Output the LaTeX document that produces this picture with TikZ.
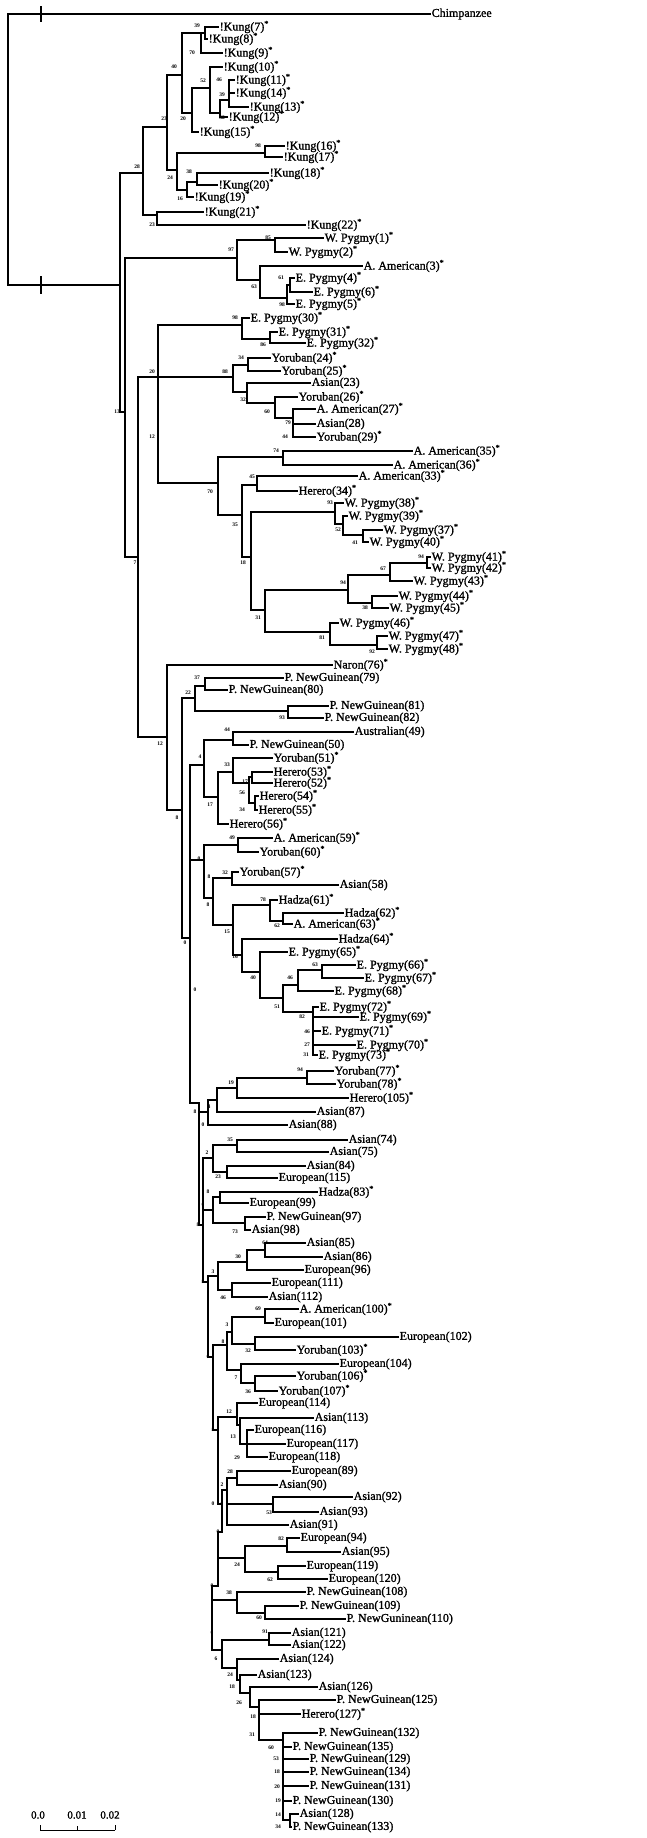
\documentclass[tikz,border=0pt]{standalone}
\usepackage{fontspec}
\setmainfont{Liberation Serif}
\newfontfamily\taxfont{Liberation Serif}[FakeBold=1.2]
\newcommand{\sig}{\textsuperscript{*}}
\tikzset{
  branch/.style={line width=1.3pt, line cap=rect},
  taxon/.style={anchor=west, inner xsep=1.5pt, inner ysep=0pt, font=\taxfont\fontsize{12}{12}\selectfont},
  boot/.style={inner sep=0pt, font=\fontsize{5.5}{5.5}\bfseries\selectfont},
  scalelab/.style={inner sep=0pt, font=\taxfont\fontsize{11}{11}\selectfont},
}

\begin{document}
\begin{tikzpicture}[x=1pt,y=-1pt]
\useasboundingbox (0,0) rectangle (647,1838);

% internal nodes
\coordinate (r) at (8,150);
\coordinate (h) at (120,285);
\coordinate (n28) at (143,173);
\coordinate (n23a) at (167,127);
\coordinate (n40) at (182,75);
\coordinate (n70k) at (201,33);
\coordinate (n39k) at (205,33);
\coordinate (n20k) at (192,113);
\coordinate (n52) at (210,88);
\coordinate (n32k) at (220,113);
\coordinate (n39b) at (229,100);
\coordinate (n24) at (177,170);
\coordinate (n98k) at (265,153);
\coordinate (n16k) at (187,190);
\coordinate (n38k) at (197,182);
\coordinate (n23b) at (157,215);
\coordinate (n13) at (125,412);
\coordinate (n97) at (237,258);
\coordinate (n85) at (275,240);
\coordinate (n63) at (260,280);
\coordinate (n98e) at (287,298);
\coordinate (n61) at (290,285);
\coordinate (n7) at (138,557);
\coordinate (n20) at (158,377);
\coordinate (n98c) at (242,325);
\coordinate (n86) at (270,339);
\coordinate (n88) at (233,377);
\coordinate (n34) at (248,365);
\coordinate (n32b) at (247,392);
\coordinate (n60) at (275,403);
\coordinate (n79) at (293,418);
\coordinate (n70) at (218,483);
\coordinate (n74) at (283,457);
\coordinate (n35) at (242,515);
\coordinate (n45) at (257,485);
\coordinate (n18) at (251,557);
\coordinate (n93) at (335,512);
\coordinate (n52b) at (343,524);
\coordinate (n41) at (363,535);
\coordinate (n31) at (265,610);
\coordinate (n94) at (348,590);
\coordinate (n67) at (390,575);
\coordinate (n94b) at (427,563);
\coordinate (n38b) at (372,603);
\coordinate (n81) at (330,632);
\coordinate (n92) at (377,645);
\coordinate (n12) at (167,737);
\coordinate (n8a) at (182,810);
\coordinate (n22) at (195,698);
\coordinate (n37) at (205,686);
\coordinate (n93b) at (288,711);
\coordinate (c1) at (190,938);
\coordinate (n4) at (204,765);
\coordinate (n44) at (233,740);
\coordinate (n17) at (218,797);
\coordinate (n33) at (233,772);
\coordinate (n56) at (249,783);
\coordinate (n17b) at (252,777);
\coordinate (n34b) at (255,803);
\coordinate (n0a) at (204,860);
\coordinate (n49) at (238,845);
\coordinate (n8b) at (213,898);
\coordinate (n32c) at (232,878);
\coordinate (n15) at (233,925);
\coordinate (n78) at (270,905);
\coordinate (n62) at (283,921);
\coordinate (n16) at (242,955);
\coordinate (n40b) at (260,972);
\coordinate (n51) at (283,998);
\coordinate (n46b) at (298,985);
\coordinate (n63b) at (322,970);
\coordinate (n82) at (313,1012);
\coordinate (c2) at (199,1103);
\coordinate (n0b) at (208,1112);
\coordinate (n4b) at (217,1100);
\coordinate (n19) at (237,1088);
\coordinate (n94c) at (307,1078);
\coordinate (c3) at (203,1225);
\coordinate (n2) at (213,1158);
\coordinate (n35b) at (237,1145);
\coordinate (n23c) at (227,1172);
\coordinate (n0c) at (213,1210);
\coordinate (n8c) at (220,1197);
\coordinate (n73) at (245,1223);
\coordinate (c4) at (208,1282);
\coordinate (n3) at (218,1276);
\coordinate (n30) at (247,1262);
\coordinate (n64) at (265,1250);
\coordinate (n46d) at (232,1290);
\coordinate (c5) at (213,1357);
\coordinate (n8d) at (227,1345);
\coordinate (n3b) at (232,1332);
\coordinate (n69) at (265,1317);
\coordinate (n32d) at (255,1344);
\coordinate (n7b) at (241,1370);
\coordinate (n36) at (255,1383);
\coordinate (c6) at (218,1430);
\coordinate (n12c) at (237,1417);
\coordinate (n13b) at (240,1425);
\coordinate (n29) at (247,1444);
\coordinate (c7) at (222,1504);
\coordinate (n2b) at (227,1490);
\coordinate (n28b) at (237,1478);
\coordinate (n53) at (273,1504);
\coordinate (c8) at (218,1532);
\coordinate (n24b) at (245,1558);
\coordinate (n82b) at (287,1546);
\coordinate (n62b) at (278,1572);
\coordinate (c9) at (212,1586);
\coordinate (n38c) at (237,1600);
\coordinate (n60b) at (265,1613);
\coordinate (n6) at (222,1650);
\coordinate (n91) at (269,1640);
\coordinate (n24c) at (237,1668);
\coordinate (n18c) at (240,1680);
\coordinate (n26) at (250,1693);
\coordinate (n18d) at (259,1707);
\coordinate (n60c) at (283,1740);
\coordinate (n16c) at (290,1820);

% taxa
\node[taxon] (tCh) at (430,14) {Chimpanzee};
\node[taxon] (tK7) at (218,27) {!Kung(7)\sig};
\node[taxon] (tK8) at (207,39) {!Kung(8)\sig};
\node[taxon] (tK9) at (222,53) {!Kung(9)\sig};
\node[taxon] (tK10) at (222,67) {!Kung(10)\sig};
\node[taxon] (tK11) at (234,80) {!Kung(11)\sig};
\node[taxon] (tK14) at (234,93) {!Kung(14)\sig};
\node[taxon] (tK13) at (248,107) {!Kung(13)\sig};
\node[taxon] (tK12) at (227,117) {!Kung(12)\sig};
\node[taxon] (tK15) at (198,132) {!Kung(15)\sig};
\node[taxon] (tK16) at (284,146) {!Kung(16)\sig};
\node[taxon] (tK17) at (282,157) {!Kung(17)\sig};
\node[taxon] (tK18) at (268,173) {!Kung(18)\sig};
\node[taxon] (tK20) at (217,185) {!Kung(20)\sig};
\node[taxon] (tK19) at (193,197) {!Kung(19)\sig};
\node[taxon] (tK21) at (203,212) {!Kung(21)\sig};
\node[taxon] (tK22) at (305,225) {!Kung(22)\sig};
\node[taxon] (tW1) at (323,238) {W. Pygmy(1)\sig};
\node[taxon] (tW2) at (287,252) {W. Pygmy(2)\sig};
\node[taxon] (tA3) at (362,266) {A. American(3)\sig};
\node[taxon] (tE4) at (294,278) {E. Pygmy(4)\sig};
\node[taxon] (tE6) at (312,292) {E. Pygmy(6)\sig};
\node[taxon] (tE5) at (294,304) {E. Pygmy(5)\sig};
\node[taxon] (tE30) at (249,318) {E. Pygmy(30)\sig};
\node[taxon] (tE31) at (277,332) {E. Pygmy(31)\sig};
\node[taxon] (tE32) at (305,343) {E. Pygmy(32)\sig};
\node[taxon] (tY24) at (270,358) {Yoruban(24)\sig};
\node[taxon] (tY25) at (280,371) {Yoruban(25)\sig};
\node[taxon] (tA23) at (310,383) {Asian(23)};
\node[taxon] (tY26) at (297,397) {Yoruban(26)\sig};
\node[taxon] (tA27) at (315,409) {A. American(27)\sig};
\node[taxon] (tA28) at (315,424) {Asian(28)};
\node[taxon] (tY29) at (315,437) {Yoruban(29)\sig};
\node[taxon] (tA35) at (412,451) {A. American(35)\sig};
\node[taxon] (tA36) at (392,465) {A. American(36)\sig};
\node[taxon] (tA33) at (357,476) {A. American(33)\sig};
\node[taxon] (tH34) at (297,491) {Herero(34)\sig};
\node[taxon] (tW38) at (343,503) {W. Pygmy(38)\sig};
\node[taxon] (tW39) at (347,516) {W. Pygmy(39)\sig};
\node[taxon] (tW37) at (382,530) {W. Pygmy(37)\sig};
\node[taxon] (tW40) at (368,542) {W. Pygmy(40)\sig};
\node[taxon] (tW41) at (430,557) {W. Pygmy(41)\sig};
\node[taxon] (tW42) at (430,568) {W. Pygmy(42)\sig};
\node[taxon] (tW43) at (412,581) {W. Pygmy(43)\sig};
\node[taxon] (tW44) at (397,596) {W. Pygmy(44)\sig};
\node[taxon] (tW45) at (388,608) {W. Pygmy(45)\sig};
\node[taxon] (tW46) at (338,623) {W. Pygmy(46)\sig};
\node[taxon] (tW47) at (387,636) {W. Pygmy(47)\sig};
\node[taxon] (tW48) at (387,649) {W. Pygmy(48)\sig};
\node[taxon] (tN76) at (332,665) {Naron(76)\sig};
\node[taxon] (tP79) at (283,678) {P. NewGuinean(79)};
\node[taxon] (tP80) at (227,690) {P. NewGuinean(80)};
\node[taxon] (tP81) at (328,706) {P. NewGuinean(81)};
\node[taxon] (tP82) at (323,718) {P. NewGuinean(82)};
\node[taxon] (tAu49) at (353,732) {Australian(49)};
\node[taxon] (tP50) at (248,745) {P. NewGuinean(50)};
\node[taxon] (tY51) at (272,758) {Yoruban(51)\sig};
\node[taxon] (tH53) at (272,772) {Herero(53)\sig};
\node[taxon] (tH52) at (272,783) {Herero(52)\sig};
\node[taxon] (tH54) at (258,796) {Herero(54)\sig};
\node[taxon] (tH55) at (257,810) {Herero(55)\sig};
\node[taxon] (tH56) at (228,824) {Herero(56)\sig};
\node[taxon] (tA59) at (272,838) {A. American(59)\sig};
\node[taxon] (tY60) at (258,852) {Yoruban(60)\sig};
\node[taxon] (tY57) at (238,872) {Yoruban(57)\sig};
\node[taxon] (tA58) at (338,885) {Asian(58)};
\node[taxon] (tHa61) at (277,900) {Hadza(61)\sig};
\node[taxon] (tHa62) at (343,913) {Hadza(62)\sig};
\node[taxon] (tA63) at (292,924) {A. American(63)\sig};
\node[taxon] (tHa64) at (337,939) {Hadza(64)\sig};
\node[taxon] (tE65) at (287,952) {E. Pygmy(65)\sig};
\node[taxon] (tE66) at (355,965) {E. Pygmy(66)\sig};
\node[taxon] (tE67) at (363,978) {E. Pygmy(67)\sig};
\node[taxon] (tE68) at (333,991) {E. Pygmy(68)\sig};
\node[taxon] (tE72) at (318,1007) {E. Pygmy(72)\sig};
\node[taxon] (tE69) at (358,1017) {E. Pygmy(69)\sig};
\node[taxon] (tE71) at (320,1031) {E. Pygmy(71)\sig};
\node[taxon] (tE70) at (355,1045) {E. Pygmy(70)\sig};
\node[taxon] (tE73) at (317,1055) {E. Pygmy(73)\sig};
\node[taxon] (tY77) at (333,1071) {Yoruban(77)\sig};
\node[taxon] (tY78) at (335,1084) {Yoruban(78)\sig};
\node[taxon] (tH105) at (348,1098) {Herero(105)\sig};
\node[taxon] (tA87) at (315,1112) {Asian(87)};
\node[taxon] (tA88) at (287,1125) {Asian(88)};
\node[taxon] (tA74) at (347,1140) {Asian(74)};
\node[taxon] (tA75) at (328,1152) {Asian(75)};
\node[taxon] (tA84) at (305,1166) {Asian(84)};
\node[taxon] (tE115) at (277,1178) {European(115)};
\node[taxon] (tHa83) at (317,1192) {Hadza(83)\sig};
\node[taxon] (tE99) at (248,1203) {European(99)};
\node[taxon] (tP97) at (265,1217) {P. NewGuinean(97)};
\node[taxon] (tA98) at (250,1230) {Asian(98)};
\node[taxon] (tA85) at (305,1243) {Asian(85)};
\node[taxon] (tA86) at (322,1257) {Asian(86)};
\node[taxon] (tE96) at (303,1270) {European(96)};
\node[taxon] (tE111) at (270,1283) {European(111)};
\node[taxon] (tA112) at (267,1297) {Asian(112)};
\node[taxon] (tA100) at (298,1309) {A. American(100)\sig};
\node[taxon] (tE101) at (273,1323) {European(101)};
\node[taxon] (tE102) at (398,1337) {European(102)};
\node[taxon] (tY103) at (295,1350) {Yoruban(103)\sig};
\node[taxon] (tE104) at (338,1364) {European(104)};
\node[taxon] (tY106) at (295,1376) {Yoruban(106)\sig};
\node[taxon] (tY107) at (277,1391) {Yoruban(107)\sig};
\node[taxon] (tE114) at (257,1403) {European(114)};
\node[taxon] (tA113) at (313,1418) {Asian(113)};
\node[taxon] (tE116) at (253,1430) {European(116)};
\node[taxon] (tE117) at (285,1444) {European(117)};
\node[taxon] (tE118) at (267,1457) {European(118)};
\node[taxon] (tE89) at (290,1471) {European(89)};
\node[taxon] (tA90) at (277,1485) {Asian(90)};
\node[taxon] (tA92) at (352,1497) {Asian(92)};
\node[taxon] (tA93) at (318,1512) {Asian(93)};
\node[taxon] (tA91) at (288,1525) {Asian(91)};
\node[taxon] (tE94) at (299,1538) {European(94)};
\node[taxon] (tA95) at (340,1552) {Asian(95)};
\node[taxon] (tE119) at (305,1566) {European(119)};
\node[taxon] (tE120) at (327,1579) {European(120)};
\node[taxon] (tP108) at (305,1592) {P. NewGuinean(108)};
\node[taxon] (tP109) at (298,1606) {P. NewGuinean(109)};
\node[taxon] (tP110) at (345,1619) {P. NewGuninean(110)};
\node[taxon] (tA121) at (290,1633) {Asian(121)};
\node[taxon] (tA122) at (290,1645) {Asian(122)};
\node[taxon] (tA124) at (278,1659) {Asian(124)};
\node[taxon] (tA123) at (256,1675) {Asian(123)};
\node[taxon] (tA126) at (317,1687) {Asian(126)};
\node[taxon] (tP125) at (335,1700) {P. NewGuinean(125)};
\node[taxon] (tH127) at (300,1714) {Herero(127)\sig};
\node[taxon] (tP132) at (317,1733) {P. NewGuinean(132)};
\node[taxon] (tP135) at (291,1747) {P. NewGuinean(135)};
\node[taxon] (tP129) at (308,1759) {P. NewGuinean(129)};
\node[taxon] (tP134) at (308,1772) {P. NewGuinean(134)};
\node[taxon] (tP131) at (308,1786) {P. NewGuinean(131)};
\node[taxon] (tP130) at (291,1801) {P. NewGuinean(130)};
\node[taxon] (tA128) at (298,1814) {Asian(128)};
\node[taxon] (tP133) at (291,1827) {P. NewGuinean(133)};

% branches
\draw[branch] (r) |- (tCh) (r) |- (h);
\draw[branch] (h) |- (n28) (h) |- (n13);
\draw[branch] (n28) |- (n23a) (n28) |- (n23b);
\draw[branch] (n23a) |- (n40) (n23a) |- (n24);
\draw[branch] (n40) |- (n70k) (n40) |- (n20k);
\draw[branch] (n70k) |- (n39k) (n70k) |- (tK9);
\draw[branch] (n39k) |- (tK7) (n39k) |- (tK8);
\draw[branch] (n20k) |- (n52) (n20k) |- (tK15);
\draw[branch] (n52) |- (tK10) (n52) |- (n32k);
\draw[branch] (n32k) |- (n39b) (n32k) |- (tK12);
\draw[branch] (n39b) |- (tK11) (n39b) |- (tK14) (n39b) |- (tK13);
\draw[branch] (n24) |- (n98k) (n24) |- (n16k);
\draw[branch] (n98k) |- (tK16) (n98k) |- (tK17);
\draw[branch] (n16k) |- (n38k) (n16k) |- (tK19);
\draw[branch] (n38k) |- (tK18) (n38k) |- (tK20);
\draw[branch] (n23b) |- (tK21) (n23b) |- (tK22);
\draw[branch] (n13) |- (n97) (n13) |- (n7);
\draw[branch] (n97) |- (n85) (n97) |- (n63);
\draw[branch] (n85) |- (tW1) (n85) |- (tW2);
\draw[branch] (n63) |- (tA3) (n63) |- (n98e);
\draw[branch] (n98e) |- (n61) (n98e) |- (tE5);
\draw[branch] (n61) |- (tE4) (n61) |- (tE6);
\draw[branch] (n7) |- (n20) (n7) |- (n12);
\draw[branch] (n20) |- (n98c) (n20) |- (n88) (n20) |- (n70);
\draw[branch] (n98c) |- (tE30) (n98c) |- (n86);
\draw[branch] (n86) |- (tE31) (n86) |- (tE32);
\draw[branch] (n88) |- (n34) (n88) |- (n32b);
\draw[branch] (n34) |- (tY24) (n34) |- (tY25);
\draw[branch] (n32b) |- (tA23) (n32b) |- (n60);
\draw[branch] (n60) |- (tY26) (n60) |- (n79);
\draw[branch] (n79) |- (tA27) (n79) |- (tA28) (n79) |- (tY29);
\draw[branch] (n70) |- (n74) (n70) |- (n35);
\draw[branch] (n74) |- (tA35) (n74) |- (tA36);
\draw[branch] (n35) |- (n45) (n35) |- (n18);
\draw[branch] (n45) |- (tA33) (n45) |- (tH34);
\draw[branch] (n18) |- (n93) (n18) |- (n31);
\draw[branch] (n93) |- (tW38) (n93) |- (n52b);
\draw[branch] (n52b) |- (tW39) (n52b) |- (n41);
\draw[branch] (n41) |- (tW37) (n41) |- (tW40);
\draw[branch] (n31) |- (n94) (n31) |- (n81);
\draw[branch] (n94) |- (n67) (n94) |- (n38b);
\draw[branch] (n67) |- (n94b) (n67) |- (tW43);
\draw[branch] (n94b) |- (tW41) (n94b) |- (tW42);
\draw[branch] (n38b) |- (tW44) (n38b) |- (tW45);
\draw[branch] (n81) |- (tW46) (n81) |- (n92);
\draw[branch] (n92) |- (tW47) (n92) |- (tW48);
\draw[branch] (n12) |- (tN76) (n12) |- (n8a);
\draw[branch] (n8a) |- (n22) (n8a) |- (c1);
\draw[branch] (n22) |- (n37) (n22) |- (n93b);
\draw[branch] (n37) |- (tP79) (n37) |- (tP80);
\draw[branch] (n93b) |- (tP81) (n93b) |- (tP82);
\draw[branch] (c1) |- (n4) (c1) |- (n0a) (c1) |- (c2);
\draw[branch] (n4) |- (n44) (n4) |- (n17);
\draw[branch] (n44) |- (tAu49) (n44) |- (tP50);
\draw[branch] (n17) |- (n33) (n17) |- (tH56);
\draw[branch] (n33) |- (tY51) (n33) |- (n56);
\draw[branch] (n56) |- (n17b) (n56) |- (n34b);
\draw[branch] (n17b) |- (tH53) (n17b) |- (tH52);
\draw[branch] (n34b) |- (tH54) (n34b) |- (tH55);
\draw[branch] (n0a) |- (n49) (n0a) |- (n8b);
\draw[branch] (n49) |- (tA59) (n49) |- (tY60);
\draw[branch] (n8b) |- (n32c) (n8b) |- (n15);
\draw[branch] (n32c) |- (tY57) (n32c) |- (tA58);
\draw[branch] (n15) |- (n78) (n15) |- (n16);
\draw[branch] (n78) |- (tHa61) (n78) |- (n62);
\draw[branch] (n62) |- (tHa62) (n62) |- (tA63);
\draw[branch] (n16) |- (tHa64) (n16) |- (n40b);
\draw[branch] (n40b) |- (tE65) (n40b) |- (n51);
\draw[branch] (n51) |- (n46b) (n51) |- (n82);
\draw[branch] (n46b) |- (n63b) (n46b) |- (tE68);
\draw[branch] (n63b) |- (tE66) (n63b) |- (tE67);
\draw[branch] (n82) |- (tE72) (n82) |- (tE69) (n82) |- (tE71) (n82) |- (tE70) (n82) |- (tE73);
\draw[branch] (c2) |- (n0b) (c2) |- (c3);
\draw[branch] (n0b) |- (n4b) (n0b) |- (tA88);
\draw[branch] (n4b) |- (n19) (n4b) |- (tA87);
\draw[branch] (n19) |- (n94c) (n19) |- (tH105);
\draw[branch] (n94c) |- (tY77) (n94c) |- (tY78);
\draw[branch] (c3) |- (n2) (c3) |- (n0c) (c3) |- (c4);
\draw[branch] (n2) |- (n35b) (n2) |- (n23c);
\draw[branch] (n35b) |- (tA74) (n35b) |- (tA75);
\draw[branch] (n23c) |- (tA84) (n23c) |- (tE115);
\draw[branch] (n0c) |- (n8c) (n0c) |- (n73);
\draw[branch] (n8c) |- (tHa83) (n8c) |- (tE99);
\draw[branch] (n73) |- (tP97) (n73) |- (tA98);
\draw[branch] (c4) |- (n3) (c4) |- (c5);
\draw[branch] (n3) |- (n30) (n3) |- (n46d);
\draw[branch] (n30) |- (n64) (n30) |- (tE96);
\draw[branch] (n64) |- (tA85) (n64) |- (tA86);
\draw[branch] (n46d) |- (tE111) (n46d) |- (tA112);
\draw[branch] (c5) |- (n8d) (c5) |- (c6);
\draw[branch] (n8d) |- (n3b) (n8d) |- (n7b);
\draw[branch] (n3b) |- (n69) (n3b) |- (n32d);
\draw[branch] (n69) |- (tA100) (n69) |- (tE101);
\draw[branch] (n32d) |- (tE102) (n32d) |- (tY103);
\draw[branch] (n7b) |- (tE104) (n7b) |- (n36);
\draw[branch] (n36) |- (tY106) (n36) |- (tY107);
\draw[branch] (c6) |- (n12c) (c6) |- (c7);
\draw[branch] (n12c) |- (tE114) (n12c) |- (n13b);
\draw[branch] (n13b) |- (tA113) (n13b) |- (n29);
\draw[branch] (n29) |- (tE116) (n29) |- (tE117) (n29) |- (tE118);
\draw[branch] (c7) |- (n2b) (c7) |- (c8);
\draw[branch] (n2b) |- (n28b) (n2b) |- (n53) (n2b) |- (tA91);
\draw[branch] (n28b) |- (tE89) (n28b) |- (tA90);
\draw[branch] (n53) |- (tA92) (n53) |- (tA93);
\draw[branch] (c8) |- (n24b) (c8) |- (c9);
\draw[branch] (n24b) |- (n82b) (n24b) |- (n62b);
\draw[branch] (n82b) |- (tE94) (n82b) |- (tA95);
\draw[branch] (n62b) |- (tE119) (n62b) |- (tE120);
\draw[branch] (c9) |- (n38c) (c9) |- (n6);
\draw[branch] (n38c) |- (tP108) (n38c) |- (n60b);
\draw[branch] (n60b) |- (tP109) (n60b) |- (tP110);
\draw[branch] (n6) |- (n91) (n6) |- (n24c);
\draw[branch] (n91) |- (tA121) (n91) |- (tA122);
\draw[branch] (n24c) |- (tA124) (n24c) |- (n18c);
\draw[branch] (n18c) |- (tA123) (n18c) |- (n26);
\draw[branch] (n26) |- (tA126) (n26) |- (n18d);
\draw[branch] (n18d) |- (tP125) (n18d) |- (tH127) (n18d) |- (n60c);
\draw[branch] (n60c) |- (tP132) (n60c) |- (tP135) (n60c) |- (tP129) (n60c) |- (tP134) (n60c) |- (tP131) (n60c) |- (tP130) (n60c) |- (n16c);
\draw[branch] (n16c) |- (tA128) (n16c) |- (tP133);

% root ticks
\draw[branch] (41,7) -- (41,21);
\draw[branch] (41,277) -- (41,293);

% bootstrap values
\node[boot] (b1) at (197,26) {39};
\node[boot] (b2) at (192,53) {70};
\node[boot] (b3) at (174,67) {40};
\node[boot] (b4) at (203,81) {52};
\node[boot] (b5) at (219,80) {46};
\node[boot] (b6) at (222,95) {39};
\node[boot] (b7) at (222,118) {32};
\node[boot] (b8) at (183,119) {20};
\node[boot] (b9) at (164,119) {23};
\node[boot] (b10) at (258,146) {98};
\node[boot] (b11) at (137,167) {28};
\node[boot] (b12) at (170,178) {24};
\node[boot] (b13) at (189,172) {38};
\node[boot] (b14) at (180,199) {16};
\node[boot] (b15) at (152,225) {23};
\node[boot] (b16) at (268,238) {85};
\node[boot] (b17) at (231,250) {97};
\node[boot] (b18) at (254,287) {63};
\node[boot] (b19) at (281,278) {61};
\node[boot] (b20) at (282,305) {98};
\node[boot] (b21) at (235,318) {98};
\node[boot] (b22) at (263,345) {86};
\node[boot] (b23) at (117,412) {13};
\node[boot] (b24) at (152,372) {20};
\node[boot] (b25) at (152,437) {12};
\node[boot] (b26) at (241,358) {34};
\node[boot] (b27) at (225,372) {88};
\node[boot] (b28) at (243,400) {32};
\node[boot] (b29) at (267,412) {60};
\node[boot] (b30) at (288,423) {79};
\node[boot] (b31) at (285,437) {44};
\node[boot] (b32) at (276,451) {74};
\node[boot] (b33) at (210,492) {70};
\node[boot] (b34) at (252,477) {45};
\node[boot] (b35) at (235,525) {35};
\node[boot] (b36) at (243,563) {18};
\node[boot] (b37) at (135,563) {7};
\node[boot] (b38) at (330,503) {93};
\node[boot] (b39) at (338,530) {52};
\node[boot] (b40) at (355,543) {41};
\node[boot] (b41) at (421,557) {94};
\node[boot] (b42) at (383,569) {67};
\node[boot] (b43) at (343,583) {94};
\node[boot] (b44) at (365,608) {38};
\node[boot] (b45) at (258,618) {31};
\node[boot] (b46) at (322,638) {81};
\node[boot] (b47) at (372,652) {92};
\node[boot] (b48) at (197,678) {37};
\node[boot] (b49) at (188,693) {22};
\node[boot] (b50) at (282,718) {93};
\node[boot] (b51) at (160,744) {12};
\node[boot] (b52) at (227,730) {44};
\node[boot] (b53) at (200,757) {4};
\node[boot] (b54) at (227,765) {33};
\node[boot] (b55) at (245,782) {17};
\node[boot] (b56) at (242,793) {56};
\node[boot] (b57) at (242,810) {34};
\node[boot] (b58) at (210,805) {17};
\node[boot] (b59) at (177,818) {8};
\node[boot] (b60) at (232,838) {49};
\node[boot] (b61) at (199,859) {0};
\node[boot] (b62) at (209,877) {8};
\node[boot] (b63) at (225,873) {32};
\node[boot] (b64) at (263,900) {78};
\node[boot] (b65) at (208,905) {8};
\node[boot] (b66) at (277,926) {62};
\node[boot] (b67) at (227,932) {15};
\node[boot] (b68) at (185,943) {0};
\node[boot] (b69) at (235,957) {16};
\node[boot] (b70) at (315,965) {63};
\node[boot] (b71) at (290,978) {46};
\node[boot] (b72) at (253,978) {40};
\node[boot] (b73) at (195,990) {0};
\node[boot] (b74) at (277,1007) {51};
\node[boot] (b75) at (302,1017) {82};
\node[boot] (b76) at (307,1032) {46};
\node[boot] (b77) at (307,1045) {27};
\node[boot] (b78) at (306,1055) {31};
\node[boot] (b79) at (300,1070) {94};
\node[boot] (b80) at (231,1083) {19};
\node[boot] (b81) at (209,1107) {4};
\node[boot] (b82) at (195,1112) {8};
\node[boot] (b83) at (203,1125) {0};
\node[boot] (b84) at (230,1140) {35};
\node[boot] (b85) at (207,1153) {2};
\node[boot] (b86) at (218,1177) {23};
\node[boot] (b87) at (208,1192) {8};
\node[boot] (b88) at (203,1205) {0};
\node[boot] (b89) at (198,1225) {8};
\node[boot] (b90) at (235,1232) {73};
\node[boot] (b91) at (265,1243) {64};
\node[boot] (b92) at (238,1257) {30};
\node[boot] (b93) at (213,1272) {3};
\node[boot] (b94) at (203,1282) {8};
\node[boot] (b95) at (223,1298) {46};
\node[boot] (b96) at (258,1309) {69};
\node[boot] (b97) at (227,1325) {3};
\node[boot] (b98) at (223,1342) {8};
\node[boot] (b99) at (248,1351) {32};
\node[boot] (b100) at (208,1357) {0};
\node[boot] (b101) at (236,1378) {7};
\node[boot] (b102) at (248,1392) {36};
\node[boot] (b103) at (229,1412) {12};
\node[boot] (b104) at (213,1430) {8};
\node[boot] (b105) at (233,1437) {13};
\node[boot] (b106) at (237,1458) {29};
\node[boot] (b107) at (230,1472) {28};
\node[boot] (b108) at (222,1485) {2};
\node[boot] (b109) at (213,1504) {0};
\node[boot] (b110) at (222,1504) {0};
\node[boot] (b111) at (269,1513) {53};
\node[boot] (b112) at (218,1532) {0};
\node[boot] (b113) at (281,1539) {82};
\node[boot] (b114) at (237,1565) {24};
\node[boot] (b115) at (270,1580) {62};
\node[boot] (b116) at (212,1586) {0};
\node[boot] (b117) at (229,1593) {38};
\node[boot] (b118) at (259,1618) {60};
\node[boot] (b119) at (212,1633) {0};
\node[boot] (b120) at (265,1632) {91};
\node[boot] (b121) at (216,1659) {6};
\node[boot] (b122) at (230,1675) {24};
\node[boot] (b123) at (232,1687) {18};
\node[boot] (b124) at (239,1703) {26};
\node[boot] (b125) at (253,1717) {18};
\node[boot] (b126) at (252,1735) {31};
\node[boot] (b127) at (271,1748) {60};
\node[boot] (b128) at (276,1759) {53};
\node[boot] (b129) at (277,1772) {18};
\node[boot] (b130) at (277,1787) {20};
\node[boot] (b131) at (278,1801) {19};
\node[boot] (b132) at (278,1815) {14};
\node[boot] (b133) at (278,1827) {34};

% scale bar
\coordinate (s0) at (40,1830);
\coordinate (s1) at (77,1830);
\coordinate (s2) at (115,1830);
\draw[line width=0.9pt] (s0) -- (s2);
\draw[line width=0.9pt] (s0) -- ++(0,-5) (s1) -- ++(0,-4) (s2) -- ++(0,-5);
\node[scalelab] (sl0) at (38,1815) {0.0};
\node[scalelab] (sl1) at (77,1815) {0.01};
\node[scalelab] (sl2) at (110,1815) {0.02};
\end{tikzpicture}
\end{document}
